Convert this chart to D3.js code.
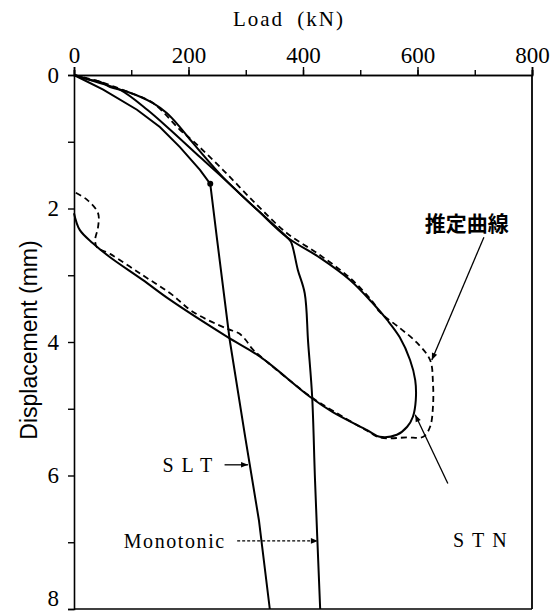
<!DOCTYPE html>
<html>
<head>
<meta charset="utf-8">
<script src="https://cdn.jsdelivr.net/npm/d3@7"></script>
<style>
  body { margin: 0; background: #fff; }
  svg { display: block; }
</style>
</head>
<body>
<div id="chart"></div>
<script>
const width = 557;
const height = 614;
const margin = {top: 75, right: 25, bottom: 5, left: 74};
const serif = "'Liberation Serif', 'Times New Roman', 'DejaVu Serif', serif";

// [load kN, displacement mm]
const sltCurve = [[0,0],[51,0.22],[110,0.52],[150,0.78],[185,1.08],[220,1.42],[238,1.63],
  [250,2.47],[272,3.97],[299,5.42],[323,6.67],[342,8.0]];
const sltPoint = [238, 1.63];

const monotonicCurve = [[0,0],[45,0.12],[80,0.22],[128,0.52],[168,0.82],[220,1.23],[260,1.54],
  [320,2.02],[372,2.43],[379,2.5],[391,2.92],[403,3.27],[409,4.01],[416,4.82],[421,6.07],[430,8.0]];

const stnCurve = [[0,0],[28,0.07],[45,0.10],[63,0.18],[93,0.25],[138,0.42],[162,0.57],[185,0.78],
  [203,0.97],[260,1.53],[320,2.02],[372,2.43],[430,2.74],[482,3.07],[522,3.42],[547,3.67],
  [569,3.93],[587,4.27],[596,4.57],[597,4.87],[592,5.12],[582,5.27],[564,5.39],[534,5.42],
  [512,5.32],[452,5.05],[412,4.82],[325,4.22],[267,3.92],[168,3.37],[120,3.07],[63,2.73],
  [33,2.52],[10,2.32],[0,2.07]];

const estimatedCurve = [[0,0],[45,0.10],[93,0.25],[138,0.42],[185,0.82],[208,0.99],[260,1.42],
  [320,1.95],[372,2.37],[430,2.70],[482,3.04],[522,3.40],[534,3.55],[569,3.79],[599,4.01],
  [622,4.27],[627,4.61],[627,4.97],[622,5.27],[610,5.42],[582,5.43],[534,5.43],[512,5.33],
  [452,5.03],[412,4.81],[325,4.21],[311,4.10],[300,3.97],[288,3.87],[267,3.80],[208,3.55],
  [168,3.27],[120,3.00],[63,2.68],[40,2.58],[37,2.47],[42,2.28],[42,2.07],[23,1.87],[0,1.75]];

const xTicks = [0, 100, 200, 300, 400, 500, 600, 700, 800];
const xLabels = [0, 200, 400, 600, 800];
const yTicks = [0, 1, 2, 3, 4, 5, 6, 7, 8];
const yLabels = [0, 2, 4, 6, 8];

// annotations: label text, label position, arrow from -> to (data units)
const annotations = [
  {text: "推定曲線", at: [686, 2.22], from: [716, 2.43], to: [625, 4.27], dash: null, cjk: true},
  {text: "STN", at: [716, 6.97], from: [653, 6.12], to: [596, 5.09], dash: null, spacing: 8},
  {text: "SLT", at: [205, 5.84], from: [263, 5.84], to: [304, 5.84], dash: null, spacing: 8},
  {text: "Monotonic", at: [176, 6.98], from: [285, 6.98], to: [426, 6.98], dash: "3,2", spacing: 1.6}
];

const x = d3.scaleLinear().domain([0, 800]).range([margin.left, width - margin.right]);
const y = d3.scaleLinear().domain([0, 8]).range([margin.top, 609]);

const svg = d3.select("#chart").append("svg")
  .attr("width", width)
  .attr("height", height);

svg.append("defs").append("marker")
  .attr("id", "arrow")
  .attr("viewBox", "0 0 10 10")
  .attr("refX", 10).attr("refY", 5)
  .attr("markerWidth", 9).attr("markerHeight", 7)
  .attr("markerUnits", "userSpaceOnUse")
  .attr("orient", "auto")
  .append("path")
  .attr("d", "M0,1 L10,5 L0,9 Z")
  .attr("fill", "#000");

// axes
const xMinor = d3.axisTop(x).tickValues(xTicks).tickSize(5).tickFormat("");
const xMajor = d3.axisTop(x).tickValues(xLabels).tickSize(8).tickPadding(4).tickFormat(d3.format("d"));
const yAxis = d3.axisLeft(y).tickValues(yTicks).tickSize(6).tickPadding(9)
  .tickFormat(d => yLabels.includes(d) ? d : "");

svg.append("g").attr("transform", `translate(0,${y(0)})`).call(xMinor);
const gx = svg.append("g").attr("transform", `translate(0,${y(0)})`).call(xMajor);
const gy = svg.append("g").attr("transform", `translate(${x(0)},0)`).call(yAxis);

svg.selectAll(".domain").attr("stroke", "#000").attr("stroke-width", 1.6);
svg.selectAll(".tick line").attr("stroke", "#000").attr("stroke-width", 1.4);
gx.selectAll("text")
  .style("font-family", serif)
  .style("font-size", "23px")
  .attr("fill", "#000");
gy.selectAll("text")
  .style("font-family", serif)
  .style("font-size", "23px")
  .attr("fill", "#000");
// bottom label sits on the edge, nudge it up so it stays inside
gy.selectAll(".tick").filter(d => d === 8).select("text").attr("dy", "-0.15em");

// frame: right and bottom
svg.append("line")
  .attr("x1", x(800)).attr("x2", x(800))
  .attr("y1", y(0)).attr("y2", y(8))
  .attr("stroke", "#000").attr("stroke-width", 1.8);
svg.append("line")
  .attr("x1", x(0)).attr("x2", x(800))
  .attr("y1", y(8)).attr("y2", y(8))
  .attr("stroke", "#000").attr("stroke-width", 1.6);

// axis titles
svg.append("text")
  .attr("x", x(400) - 14).attr("y", 26)
  .attr("text-anchor", "middle")
  .style("font-family", serif)
  .style("font-size", "21px")
  .style("letter-spacing", "2px")
  .style("word-spacing", "6px")
  .text("Load (kN)");

svg.append("text")
  .attr("transform", `translate(37,${y(3.97)}) rotate(-90)`)
  .attr("text-anchor", "middle")
  .style("font-family", "'Liberation Sans', Arial, sans-serif")
  .style("font-size", "23px")
  .text("Displacement (mm)");

// curves
const line = d3.line()
  .x(d => x(d[0]))
  .y(d => y(d[1]))
  .curve(d3.curveCatmullRom.alpha(0.5));

svg.append("path").datum(estimatedCurve)
  .attr("d", line)
  .attr("fill", "none").attr("stroke", "#000")
  .attr("stroke-width", 1.8).attr("stroke-dasharray", "6,4");

[stnCurve, monotonicCurve].forEach(c => {
  svg.append("path").datum(c)
    .attr("d", line)
    .attr("fill", "none").attr("stroke", "#000")
    .attr("stroke-width", 2);
});

svg.append("path").datum(sltCurve)
  .attr("d", d3.line().x(d => x(d[0])).y(d => y(d[1])))
  .attr("fill", "none").attr("stroke", "#000")
  .attr("stroke-width", 2);

svg.append("circle")
  .attr("cx", x(sltPoint[0])).attr("cy", y(sltPoint[1]))
  .attr("r", 3).attr("fill", "#000");

// annotations
annotations.forEach(a => {
  svg.append("line")
    .attr("x1", x(a.from[0])).attr("y1", y(a.from[1]))
    .attr("x2", x(a.to[0])).attr("y2", y(a.to[1]))
    .attr("stroke", "#000").attr("stroke-width", 1.3)
    .attr("stroke-dasharray", a.dash)
    .attr("marker-end", "url(#arrow)");

  svg.append("text")
    .attr("x", x(a.at[0])).attr("y", y(a.at[1]))
    .attr("dy", "0.35em")
    .attr("text-anchor", "middle")
    .style("font-family", a.cjk ? "'Noto Sans CJK JP', sans-serif" : serif)
    .style("font-size", a.cjk ? "21px" : "20px")
    .style("font-weight", a.cjk ? "bold" : "normal")
    .style("letter-spacing", a.spacing ? a.spacing + "px" : null)
    .text(a.text);
});
</script>
</body>
</html>
